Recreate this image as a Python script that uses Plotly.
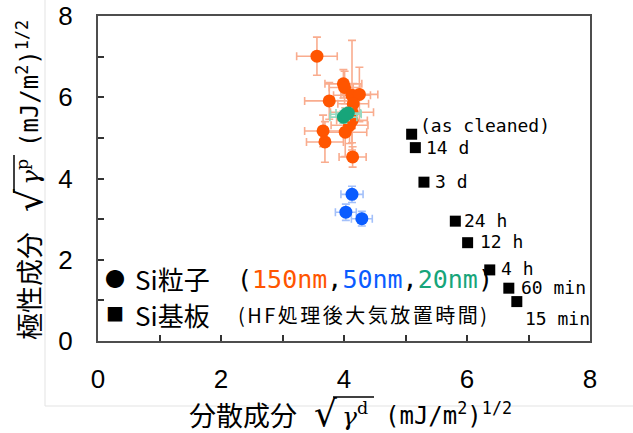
import plotly.graph_objects as go

# Si particles, 150 nm (dispersive, polar components and their errors)
p150_x = [3.56, 3.99, 4.01, 3.76, 4.13, 4.25, 4.15, 4.13, 4.13, 4.09, 4.02, 3.66, 3.69, 4.14]
p150_y = [7.01, 6.33, 6.24, 5.91, 6.05, 6.07, 5.84, 5.63, 5.43, 5.31, 5.14, 5.17, 4.90, 4.53]
p150_xerr = [0.33, 0.30, 0.25, 0.40, 0.30, 0.30, 0.25, 0.35, 0.25, 0.30, 0.35, 0.30, 0.30, 0.22]
p150_yerr = [0.47, 0.35, 0.40, 0.45, 1.35, 0.67, 0.50, 0.40, 0.55, 0.45, 0.60, 0.39, 0.50, 0.25]

# Si particles, 50 nm
p50_x = [4.13, 4.03, 4.29]
p50_y = [3.61, 3.17, 3.01]
p50_xerr = [0.18, 0.17, 0.17]
p50_yerr = [0.20, 0.20, 0.18]

# Si particles, 20 nm
p20_x = [3.99, 4.07, 4.03]
p20_y = [5.51, 5.61, 5.58]
p20_xerr = [0.22, 0.20, 0.25]
p20_yerr = [0.15, 0.12, 0.15]

# Si wafers after HF treatment, exposure time in air
sub_x = [5.10, 5.16, 5.30, 5.81, 6.01, 6.37, 6.68, 6.81]
sub_y = [5.09, 4.76, 3.91, 2.95, 2.42, 1.75, 1.30, 0.97]
sub_labels = ["(as cleaned)", "14 d", "3 d", "24 h", "12 h", "4 h", "60 min", "15 min"]
label_shift = [(6, 9), (9, 0), (9, 1), (7, 1), (10, 1), (9, 1), (10, 1), (6, -17)]

ORANGE = "#FF5500"
BLUE = "#0A5CFF"
GREEN = "#17A57A"
JP = "Noto Sans CJK JP"
MONO = "DejaVu Sans Mono"

# plot area in pixels: x 98..590, y 16..341
L, R, T, B = 98, 590, 16, 341


def px(x):
    return (x - L) / (R - L)


def py(y):
    return (B - y) / (B - T)


def particle_trace(xs, ys, xe, ye, color, bar_color):
    return go.Scatter(
        x=xs, y=ys, mode="markers",
        marker=dict(color=color, size=13, symbol="circle", line=dict(width=0)),
        error_x=dict(type="data", array=xe, color=bar_color, thickness=1.6, width=4),
        error_y=dict(type="data", array=ye, color=bar_color, thickness=1.6, width=4),
        showlegend=False, hoverinfo="x+y",
    )


fig = go.Figure()
fig.add_trace(particle_trace(p150_x, p150_y, p150_xerr, p150_yerr, ORANGE, "#F9AC8E"))
fig.add_trace(particle_trace(p20_x, p20_y, p20_xerr, p20_yerr, GREEN, "#96D8C0"))
fig.add_trace(particle_trace(p50_x, p50_y, p50_xerr, p50_yerr, BLUE, "#A3C0FA"))
fig.add_trace(go.Scatter(
    x=sub_x, y=sub_y, mode="markers",
    marker=dict(color="black", size=11, symbol="square", line=dict(width=0)),
    showlegend=False, hoverinfo="x+y",
))

annotations = []
for xv, yv, lab, (dx, dy) in zip(sub_x, sub_y, sub_labels, label_shift):
    annotations.append(dict(
        x=xv, y=yv, xref="x", yref="y", text=lab, showarrow=False,
        xanchor="left", yanchor="middle", xshift=dx, yshift=dy,
        font=dict(family=MONO, size=18, color="black"),
    ))


def note(x, y, text, font, xanchor="left", angle=0):
    return dict(x=px(x), y=py(y), xref="paper", yref="paper", text=text,
                showarrow=False, xanchor=xanchor, yanchor="middle",
                textangle=angle, font=font)


# legend block written as text
annotations += [
    note(115, 278, "●", dict(family=JP, size=20, color="black"), "center"),
    note(115, 313, "■", dict(family=JP, size=18, color="black"), "center"),
    note(133, 278, "Si粒子", dict(family=JP, size=26, color="black")),
    note(133, 314, "Si基板", dict(family=JP, size=26, color="black")),
    note(235, 279,
         ("(<span style='color:%s'>150nm</span>,<span style='color:%s'>50nm</span>,"
          "<span style='color:%s'>20nm</span>)") % (ORANGE, BLUE, GREEN),
         dict(family=MONO, size=25, color="black")),
    note(236, 314, "<span style='letter-spacing:2.5px'>(HF処理後大気放置時間)</span>",
         dict(family=JP, size=20, color="black")),
]

# axis titles, set in pieces so the radical bar can be drawn over γ
title_font = dict(family=JP, size=27, color="black")
unit_font = dict(family=MONO, size=24, color="black")
root_font = dict(family="DejaVu Sans", size=36, color="black")
gamma_font = dict(family="DejaVu Serif", size=25, color="black")
annotations += [
    note(243, 414, "分散成分", title_font, "center"),
    note(325, 413, "√", root_font, "center"),
    note(355, 414, "<i>γ</i><sup>d</sup>", gamma_font, "center"),
    note(383, 414, "(mJ/m<sup>2</sup>)<sup>1/2</sup>", unit_font, "left"),
]
annotations += [
    note(28, 286, "極性成分", title_font, "center", -90),
    note(29, 201, "√", root_font, "center", -90),
    note(28, 172, "<i>γ</i><sup>p</sup>", gamma_font, "center", -90),
    note(28, 84, "(mJ/m<sup>2</sup>)<sup>1/2</sup>", unit_font, "center", -90),
]

axis_common = dict(
    range=[0, 8], dtick=2, showgrid=False, zeroline=False, automargin=False,
    showline=True, linecolor="#4d4d4d", linewidth=2, mirror=True,
    ticks="inside", ticklen=6, tickwidth=1.5, tickcolor="#333",
    minor=dict(dtick=1, ticks="inside", ticklen=6, tickwidth=1.5, tickcolor="#333"),
    tickfont=dict(family="Liberation Sans", size=26, color="black"),
    fixedrange=True,
)

fig.update_layout(
    width=633, height=433,
    margin=dict(l=L, r=633 - R, t=T, b=433 - B),
    paper_bgcolor="white", plot_bgcolor="white",
    xaxis=dict(**axis_common, ticklabelstandoff=14),
    yaxis=dict(**axis_common, ticklabelstandoff=18),
    annotations=annotations,
    shapes=[
        dict(type="line", xref="paper", yref="paper",
             x0=px(45), x1=px(45), y0=py(406), y1=py(-20),
             line=dict(color="#e3e3e3", width=1), layer="below"),
        dict(type="line", xref="paper", yref="paper",
             x0=px(45), x1=px(660), y0=py(406), y1=py(406),
             line=dict(color="#e3e3e3", width=1), layer="below"),
        # radical bars
        dict(type="line", xref="paper", yref="paper",
             x0=px(333), x1=px(374), y0=py(397), y1=py(397),
             line=dict(color="black", width=1.5)),
        dict(type="line", xref="paper", yref="paper",
             x0=px(14), x1=px(14), y0=py(193), y1=py(155),
             line=dict(color="black", width=1.5)),
    ],
)

fig.write_html("out.html")
